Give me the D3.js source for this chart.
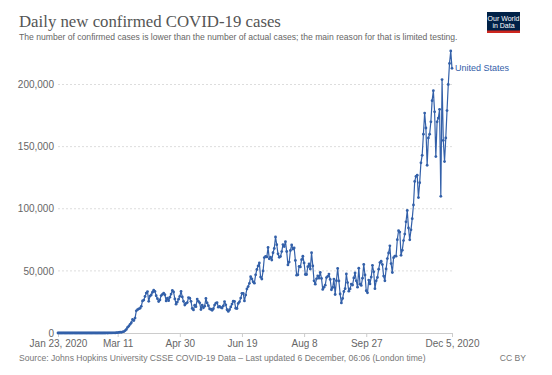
<!DOCTYPE html>
<html lang="en">
<head>
<meta charset="utf-8">
<title>Daily new confirmed COVID-19 cases</title>
<style>
  body { margin: 0; background: #fff; }
  svg { display: block; font-family: "Liberation Sans", Arial, sans-serif; }
</style>
</head>
<body>
<svg id="chart" width="552" height="375"></svg>
<script src="https://cdn.jsdelivr.net/npm/d3@7"></script>
<script>
// daily new confirmed cases, United States, starting Jan 23, 2020
const startDate = "2020-01-23";
const casesJan = [0, 1, 0, 2, 0, 1, 0, 2, 1];
const casesFeb = [1, 1, 0, 2, 0, 0, 0, 0, 1, 0, 0, 1, 0, 0, 0, 0, 0, 0, 0, 0, 2, 0, 0, 18, 0, 6, 1, 1, 8];
const casesMar = [7, 23, 19, 33, 77, 53, 166, 116, 75, 299, 337, 437, 632, 533, 934, 1129, 1946, 2842, 4530, 5591,
  6991, 8300, 10931, 9992, 12000, 17830, 18808, 19460, 19897, 21500, 25800];
const casesApr = [26500, 29400, 32100, 33300, 25500, 29700, 30600, 32800, 34400, 33500, 30000, 27600, 25300, 26600, 30100,
  31100, 32100, 30800, 25800, 28000, 26000, 28800, 31300, 34200, 33000, 27400, 23200, 24900, 27200, 29500];
const casesMay = [33500, 29000, 25500, 22500, 23800, 24500, 28500, 28000, 25500, 19700, 18600, 22400, 21200, 27300, 25500,
  24300, 18900, 22500, 20300, 21600, 27800, 24200, 22000, 19400, 19100, 18300, 19500, 22500, 24000, 24400, 20800];
const casesJun = [21500, 20600, 20100, 21800, 25300, 22700, 18700, 17400, 18700, 21000, 23300, 25600, 25400, 19900, 19700,
  23800, 25100, 28100, 31900, 31900, 25800, 30500, 35500, 37400, 40000, 45300, 43500, 41200, 40100, 46800];
const casesJul = [51100, 54000, 56400, 45000, 43400, 50000, 60700, 61600, 61200, 68800, 59700, 61000, 58700, 64600, 68100,
  77300, 71100, 63700, 60900, 61600, 65500, 71200, 69600, 73500, 65600, 54800, 57100, 66400, 70900, 67600, 68400];
const casesAug = [58400, 46500, 46800, 53600, 53200, 59000, 61800, 56400, 47100, 47100, 53400, 55600, 51500, 64600, 54000,
  42000, 39300, 43600, 46000, 44100, 48700, 43900, 35100, 36800, 38500, 44600, 45500, 47400, 43100, 34800, 36700];
const casesSep = [43400, 31000, 42100, 52000, 41900, 31400, 24200, 27800, 33400, 35700, 47500, 40600, 33700, 35500, 39400,
  38600, 44300, 48300, 42000, 36900, 52100, 39300, 38300, 44100, 55200, 46700, 34000, 32300, 42600, 39500];
const casesOct = [45000, 54500, 49200, 35700, 42000, 44700, 51400, 56700, 57800, 55100, 45800, 42000, 51600, 59900, 64400,
  70200, 55900, 48700, 60600, 61900, 61800, 75100, 82300, 81200, 62500, 66700, 74400, 79600, 89500, 98600, 84500];
const casesNov = [75000, 83000, 92000, 103000, 122000, 126000, 127000, 109000, 121000, 137000, 143000, 160000, 177000, 165000, 135000,
  157000, 160000, 170000, 187000, 195000, 178000, 142000, 170000, 173000, 180000, 110000, 204000, 155000, 138000, 157000];
const casesDec = [179000, 200000, 217000, 227000, 213000];

const yTicks = [0, 50000, 100000, 150000, 200000];
const xTickDates = ["2020-01-23", "2020-03-11", "2020-04-30", "2020-06-19", "2020-08-08", "2020-09-27", "2020-12-05"];
const xTickLabels = ["Jan 23, 2020", "Mar 11", "Apr 30", "Jun 19", "Aug 8", "Sep 27", "Dec 5, 2020"];
const seriesName = "United States";

const parse = d3.timeParse("%Y-%m-%d");
const allCases = [].concat(casesJan, casesFeb, casesMar, casesApr, casesMay, casesJun,
  casesJul, casesAug, casesSep, casesOct, casesNov, casesDec);
const t0 = parse(startDate);
const data = allCases.map((v, i) => ({ date: d3.timeDay.offset(t0, i), value: v }));

const svg = d3.select("#chart");
const blue = "#3360a9";

const x = d3.scaleTime()
  .domain([t0, data[data.length - 1].date])
  .range([58, 452]);
const y = d3.scaleLinear()
  .domain([0, 200000])
  .range([333, 84.5]);

// title block
svg.append("text")
  .attr("x", 19).attr("y", 27)
  .style("font-family", "'Liberation Serif', 'Times New Roman', serif")
  .style("font-size", "16.8px")
  .attr("fill", "#555")
  .text("Daily new confirmed COVID-19 cases");
svg.append("text")
  .attr("x", 19).attr("y", 40)
  .style("font-size", "8.6px")
  .attr("fill", "#666")
  .text("The number of confirmed cases is lower than the number of actual cases; the main reason for that is limited testing.");

// logo
const logo = svg.append("g").attr("transform", "translate(487,12)");
logo.append("rect").attr("width", 33).attr("height", 21).attr("fill", "#002147");
logo.append("rect").attr("y", 18.5).attr("width", 33).attr("height", 2.5).attr("fill", "#ce261e");
logo.append("text").attr("x", 16.5).attr("y", 8.5).attr("text-anchor", "middle")
  .style("font-size", "7px").attr("fill", "#fff").text("Our World");
logo.append("text").attr("x", 16.5).attr("y", 16).attr("text-anchor", "middle")
  .style("font-size", "7px").attr("fill", "#fff").text("in Data");

// y grid + labels
const yAxis = d3.axisLeft(y)
  .tickValues(yTicks)
  .tickSize(0)
  .tickPadding(4)
  .tickFormat(d3.format(","));
const gy = svg.append("g").attr("transform", "translate(58,0)").call(yAxis);
gy.select(".domain").remove();
gy.selectAll("text").style("font-size", "10px").attr("fill", "#666").style("font-family", "'Liberation Sans', Arial, sans-serif");
svg.append("g").selectAll("line")
  .data(yTicks.filter(d => d > 0))
  .join("line")
  .attr("x1", 58).attr("x2", 452)
  .attr("y1", d => y(d)).attr("y2", d => y(d))
  .attr("stroke", "#ddd")
  .attr("stroke-dasharray", "2,2");

// x axis
const xAxis = d3.axisBottom(x)
  .tickValues(xTickDates.map(parse))
  .tickSize(4)
  .tickPadding(3)
  .tickFormat((d, i) => xTickLabels[i]);
const gx = svg.append("g").attr("transform", "translate(0,333)").call(xAxis);
gx.select(".domain").attr("stroke", "#ccc");
gx.selectAll(".tick line").attr("stroke", "#ccc");
gx.selectAll("text").style("font-size", "10px").attr("fill", "#666").style("font-family", "'Liberation Sans', Arial, sans-serif");

// series
const line = d3.line().x(d => x(d.date)).y(d => y(d.value));
svg.append("path")
  .datum(data)
  .attr("fill", "none")
  .attr("stroke", blue)
  .attr("stroke-width", 1.2)
  .attr("stroke-linejoin", "round")
  .attr("d", line);
svg.append("g").selectAll("circle")
  .data(data)
  .join("circle")
  .attr("cx", d => x(d.date))
  .attr("cy", d => y(d.value))
  .attr("r", 1.4)
  .attr("fill", blue);

const last = data[data.length - 1];
svg.append("text")
  .attr("x", x(last.date) + 3)
  .attr("y", y(last.value) + 3)
  .style("font-size", "9px")
  .attr("fill", blue)
  .text(seriesName);

// footer
svg.append("text")
  .attr("x", 19).attr("y", 361)
  .style("font-size", "8.6px")
  .attr("fill", "#777")
  .text("Source: Johns Hopkins University CSSE COVID-19 Data \u2013 Last updated 6 December, 06:06 (London time)");
svg.append("text")
  .attr("x", 526).attr("y", 361)
  .attr("text-anchor", "end")
  .style("font-size", "8.6px")
  .attr("fill", "#777")
  .text("CC BY");
</script>
</body>
</html>
